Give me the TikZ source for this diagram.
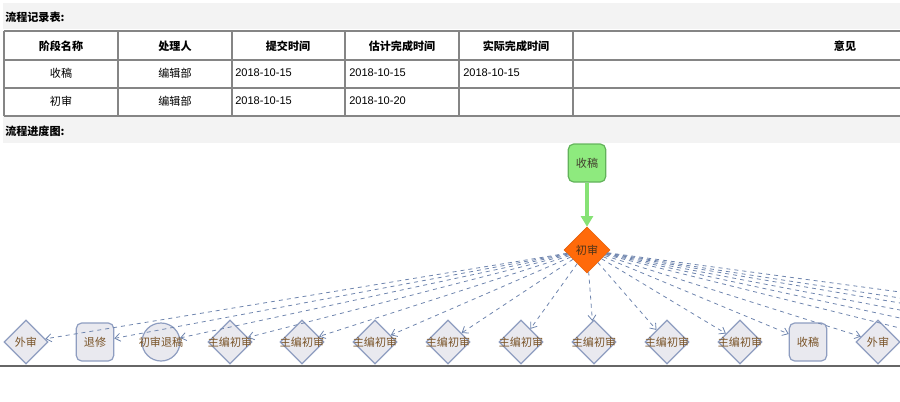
\documentclass[tikz,border=0pt]{standalone}
\usepackage{fontspec}
\setmainfont{Liberation Sans}
\newfontfamily\cjk{Noto Sans CJK SC}
\usetikzlibrary{shapes.geometric,arrows.meta}

\definecolor{bandgray}{HTML}{F3F3F3}
\definecolor{gridgray}{HTML}{858585}
\definecolor{nodefill}{HTML}{E9E9EF}
\definecolor{nodeline}{HTML}{8E9DC0}
\definecolor{edgeblue}{HTML}{6F85AE}
\definecolor{labbrown}{HTML}{7A5428}
\definecolor{startgreen}{HTML}{8EEA7E}
\definecolor{startline}{HTML}{62B25A}
\definecolor{arrowgreen}{HTML}{86E275}
\definecolor{curorange}{HTML}{FF6A0A}

\begin{document}
\begin{tikzpicture}[x=0.75pt,y=0.75pt,yscale=-1,xscale=1,
  every node/.style={font=\fontsize{8.3}{10}\selectfont},
  cell/.style={inner sep=0pt,font=\fontsize{8.3}{10}\selectfont\cjk},
  hcell/.style={inner sep=0pt,font=\fontsize{8.3}{10}\selectfont\cjk\bfseries},
  datecell/.style={inner sep=0pt,anchor=west},
  title/.style={inner sep=0pt,anchor=west,font=\fontsize{8.3}{10}\selectfont\cjk\bfseries},
  stepdia/.style={diamond,draw=nodeline,fill=nodefill,line width=0.9pt,inner sep=0pt,minimum size=33pt},
  stepbox/.style={rectangle,rounded corners=4pt,draw=nodeline,fill=nodefill,line width=0.9pt,minimum width=28pt,minimum height=28.5pt},
  stepcirc/.style={circle,draw=nodeline,fill=nodefill,line width=0.9pt,minimum size=28.5pt,inner sep=0pt},
  steptext/.style={text=labbrown,font=\fontsize{8.3}{10}\selectfont\cjk},
  flowedge/.style={edgeblue,dashed,line width=0.6pt,-{Straight Barb[length=4pt,width=6pt]}}
]
\clip (0,0) rectangle (900,401);

% record table
\fill[bandgray] (3,3) rectangle (900,29);
\node[title] (rtitle) at (5,17) {流程记录表:};
\fill[bandgray] (3,116) rectangle (900,143);
\node[title] (ptitle) at (5,131) {流程进度图:};

\foreach \y in {31,60,88,116}
  \draw[gridgray,line width=1pt] (4,\y) -- (910,\y);
\foreach \x in {4,118,232,345,459,573}
  \draw[gridgray,line width=1pt] (\x,31) -- (\x,116);

\foreach \x/\t [count=\i] in {61/阶段名称,175/处理人,288/提交时间,402/估计完成时间,516/实际完成时间,845/意见}
  \node[hcell] (h\i) at (\x,46) {\t};

\node[cell] (r1c1) at (61,73) {收稿};
\node[cell] (r1c2) at (175,73) {编辑部};
\node[datecell] (r1c3) at (235,73) {2018-10-15};
\node[datecell] (r1c4) at (349,73) {2018-10-15};
\node[datecell] (r1c5) at (463,73) {2018-10-15};

\node[cell] (r2c1) at (61,101) {初审};
\node[cell] (r2c2) at (175,101) {编辑部};
\node[datecell] (r2c3) at (235,101) {2018-10-15};
\node[datecell] (r2c4) at (349,101) {2018-10-20};

% progress chart
\node[stepbox,fill=startgreen,draw=startline,steptext,text=black!70!olive] (sgTop) at (587,163) {收稿};
\node[diamond,fill=curorange,draw=curorange!90!black,inner sep=0pt,minimum size=34.5pt,
      label={[steptext,text=black!60!brown]center:初审}] (cs) at (587,250) {};
\draw[arrowgreen,line width=2.4pt,-{Triangle[length=8pt,width=9pt]}] (sgTop) -- (cs);

\node[stepdia,label={[steptext]center:外审}] (wsA) at (26,342) {};
\node[stepbox,steptext] (tx) at (95,342) {退修};
\node[stepcirc,label={[steptext]center:初审退稿}] (cstg) at (161,342) {};
\foreach \x [count=\i] in {230,302,375,448,521,594,667,740}
  \node[stepdia,label={[steptext]center:主编初审}] (zb\i) at (\x,342) {};
\node[stepbox,steptext] (sgB) at (808,342) {收稿};
\node[stepdia,label={[steptext]center:外审}] (wsB) at (878,342) {};

% nodes further right, outside the view
\foreach \x [count=\i] in {940,992,1046,1107,1161,1243}
  \coordinate (off\i) at (\x,338);

\foreach \t in {wsA,tx,cstg,zb1,zb2,zb3,zb4,zb5,zb6,zb7,zb8,sgB,wsB,off1,off2,off3,off4,off5,off6}
  \draw[flowedge] (cs) -- (\t);

\draw[black!60,line width=1.1pt] (0,366) -- (900,366);
\end{tikzpicture}
\end{document}
